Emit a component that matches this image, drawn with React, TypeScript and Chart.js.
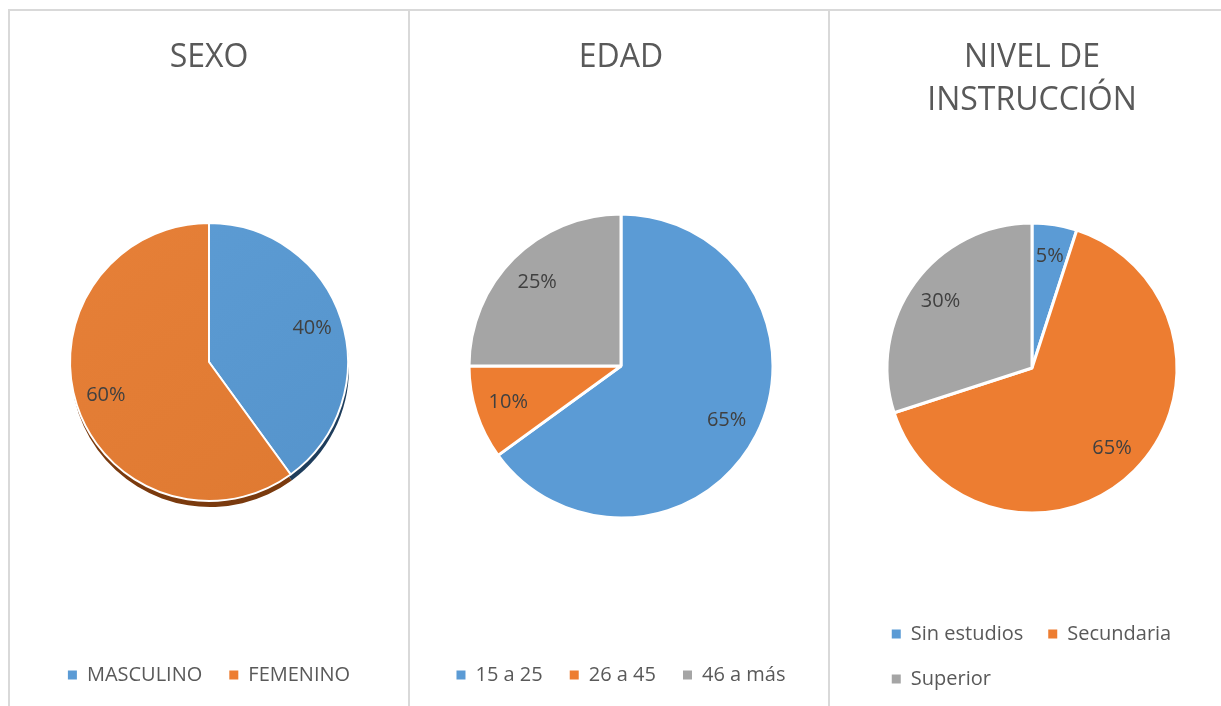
import React, { useEffect, useRef } from "react";
import { Chart, registerables } from "chart.js";

Chart.register(...registerables);

const FONT = "'Open Sans', sans-serif";
Chart.defaults.font.family = FONT;

// ---- data ----
const sexoTitle = "SEXO";
const sexoLabels = ["MASCULINO", "FEMENINO"];
const sexoValues = [40, 60];

const edadTitle = "EDAD";
const edadLabels = ["15 a 25", "26 a 45", "46 a más"];
const edadValues = [65, 10, 25];

const nivelTitle = ["NIVEL DE", "INSTRUCCIÓN"];
const nivelLabels = ["Sin estudios", "Secundaria", "Superior"];
const nivelValues = [5, 65, 30];

const BLUE = "#5B9BD5";
const ORANGE = "#ED7D31";
const GRAY = "#A5A5A5";
const TEXT = "#595959";
const LABEL = "#404040";
const LINE = "#D9D9D9";

const pctLabelPlugin = {
  id: "pctLabels",
  afterDatasetsDraw(chart: any) {
    const ctx = chart.ctx;
    const meta = chart.getDatasetMeta(0);
    const data: number[] = chart.data.datasets[0].data;
    const total = data.reduce((a, b) => a + b, 0);
    ctx.save();
    ctx.font = `20px ${FONT}`;
    ctx.fillStyle = LABEL;
    ctx.textAlign = "center";
    ctx.textBaseline = "middle";
    meta.data.forEach((arc: any, i: number) => {
      const p = arc.getProps(["x", "y", "startAngle", "endAngle", "outerRadius"], true);
      const mid = (p.startAngle + p.endAngle) / 2;
      const r = p.outerRadius * 0.78;
      ctx.fillText(Math.round((data[i] / total) * 100) + "%", p.x + Math.cos(mid) * r, p.y + Math.sin(mid) * r);
    });
    ctx.restore();
  },
};

const shadowPlugin = {
  id: "pieShadow",
  beforeDatasetsDraw(chart: any, _args: any, opts: any) {
    if (!opts || !opts.enabled) return;
    const ctx = chart.ctx;
    const meta = chart.getDatasetMeta(0);
    ctx.save();
    meta.data.forEach((arc: any, i: number) => {
      const p = arc.getProps(["x", "y", "startAngle", "endAngle", "outerRadius"], true);
      ctx.beginPath();
      ctx.moveTo(p.x + 1, p.y + 6);
      ctx.arc(p.x + 1, p.y + 6, p.outerRadius, p.startAngle, p.endAngle);
      ctx.closePath();
      ctx.fillStyle = opts.colors[i];
      ctx.fill();
    });
    ctx.restore();
  },
};

function measure(text: string, font: string) {
  const c = document.createElement("canvas").getContext("2d")!;
  c.font = font;
  return c.measureText(text).width;
}

type PieProps = {
  title: string | string[];
  labels: string[];
  values: number[];
  colors: any;
  legendColors: string[];
  left: number;
  width: number;
  radius: number;
  titlePadBottom: number;
  legendPadding: number;
  layoutBottom: number;
  borderWidth: number;
  shadowColors?: string[];
  wrapLegend?: boolean;
};

function PieChart(props: PieProps) {
  const ref = useRef<HTMLCanvasElement>(null);
  useEffect(() => {
    if (!ref.current) return;
    const legendFont = `20px ${FONT}`;
    let padLeft = 0;
    let padRight = 0;
    let align: "center" | "start" = "center";
    if (props.wrapLegend) {
      const p = props.legendPadding;
      const w0 = 9 + 10 + measure(props.labels[0], legendFont);
      const w1 = 9 + 10 + measure(props.labels[1], legendFont);
      const need = w0 + w1 + 3 * p + 1;
      padLeft = (props.width - need) / 2;
      padRight = padLeft;
      align = "start";
    }
    const chart = new Chart(ref.current, {
      type: "pie",
      data: {
        labels: props.labels,
        datasets: [
          {
            data: props.values,
            backgroundColor: props.colors,
            borderColor: "#FFFFFF",
            borderWidth: props.borderWidth,
            radius: props.radius,
            clip: false,
          } as any,
        ],
      },
      options: {
        animation: false,
        responsive: true,
        maintainAspectRatio: false,
        layout: { padding: { left: padLeft, right: padRight, top: 0, bottom: props.layoutBottom } },
        plugins: {
          title: {
            display: true,
            text: props.title,
            color: TEXT,
            font: { size: 32, weight: "normal", family: FONT, lineHeight: 1.37 },
            padding: { top: 24.5, bottom: props.titlePadBottom },
          },
          legend: {
            display: true,
            position: "bottom",
            align,
            labels: {
              boxWidth: 9,
              boxHeight: 9,
              padding: props.legendPadding,
              color: TEXT,
              font: { size: 20, family: FONT },
              generateLabels: (c: any) =>
                c.data.labels.map((t: string, i: number) => ({
                  text: t,
                  fillStyle: props.legendColors[i],
                  strokeStyle: props.legendColors[i],
                  lineWidth: 0,
                  hidden: false,
                  index: i,
                  fontColor: TEXT,
                })),
            },
          },
          tooltip: { enabled: false },
          pieShadow: props.shadowColors ? { enabled: true, colors: props.shadowColors } : { enabled: false },
        } as any,
      },
      plugins: [pctLabelPlugin, shadowPlugin],
    });
    return () => chart.destroy();
  }, []);
  return (
    <div style={{ position: "absolute", left: props.left, top: 11, width: props.width, height: 695 }}>
      <canvas ref={ref} />
    </div>
  );
}

// gradient fills for the shaded first pie (one [light, dark] pair per slice)
function gradFill(pairs: string[][]) {
  return (ctx: any) => {
    const pair = pairs[ctx.dataIndex] || pairs[0];
    const chart = ctx.chart;
    const a = chart.chartArea;
    if (!a) return pair[0];
    const g = chart.ctx.createLinearGradient(a.left, a.top, a.right, a.bottom);
    g.addColorStop(0, pair[0]);
    g.addColorStop(1, pair[1]);
    return g;
  };
}

export default function App() {
  const line = (s: React.CSSProperties) => <div style={{ position: "absolute", background: LINE, ...s }} />;
  return (
    <div style={{ position: "absolute", left: 0, top: 0, width: 1221, height: 706, overflow: "hidden", background: "#FFFFFF" }}>
      {line({ left: 8, top: 9, width: 1213, height: 2 })}
      {line({ left: 8, top: 9, width: 2, height: 697 })}
      {line({ left: 408, top: 9, width: 2, height: 697 })}
      {line({ left: 828, top: 9, width: 2, height: 697 })}
      <PieChart
        title={sexoTitle}
        labels={sexoLabels}
        values={sexoValues}
        colors={gradFill([["#60A0D8", "#5290C8"], ["#E9823A", "#DC772F"]])}
        legendColors={[BLUE, ORANGE]}
        left={10}
        width={398}
        radius={139}
        titlePadBottom={6.7}
        legendPadding={27}
        layoutBottom={11}
        borderWidth={2}
        shadowColors={["#1E3D5C", "#7A3A0E"]}
      />
      <PieChart
        title={edadTitle}
        labels={edadLabels}
        values={edadValues}
        colors={[BLUE, ORANGE, GRAY]}
        legendColors={[BLUE, ORANGE, GRAY]}
        left={412}
        width={418}
        radius={152}
        titlePadBottom={14.7}
        legendPadding={27}
        layoutBottom={11}
        borderWidth={3}
      />
      <PieChart
        title={nivelTitle}
        labels={nivelLabels}
        values={nivelValues}
        colors={[BLUE, ORANGE, GRAY]}
        legendColors={[BLUE, ORANGE, GRAY]}
        left={831}
        width={402}
        radius={145}
        titlePadBottom={13.8}
        legendPadding={25}
        layoutBottom={7}
        borderWidth={3}
        wrapLegend
      />
    </div>
  );
}
